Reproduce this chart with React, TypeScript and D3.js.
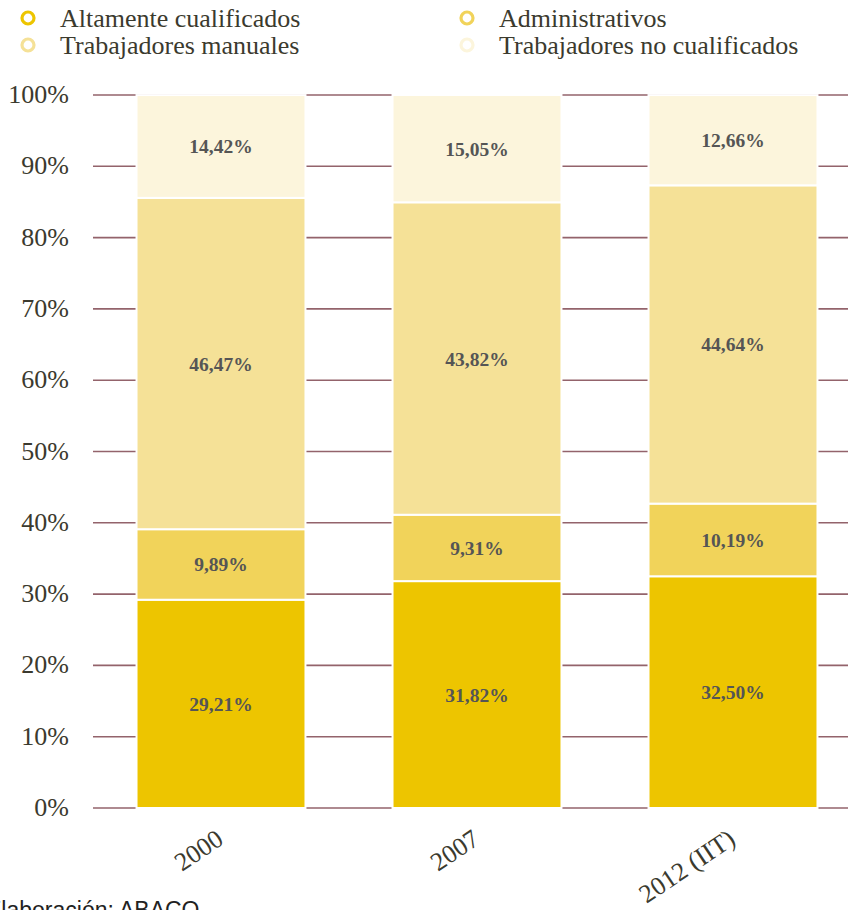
import React from 'react'
import * as d3 from 'd3'

// data
const years = ['2000', '2007', '2012 (IIT)']
const seriesNames = ['Altamente cualificados', 'Administrativos', 'Trabajadores manuales', 'Trabajadores no cualificados']
const altamente = [29.21, 31.82, 32.5]
const administrativos = [9.89, 9.31, 10.19]
const manuales = [46.47, 43.82, 44.64]
const noCualificados = [14.42, 15.05, 12.66]
const yTicks = [0, 10, 20, 30, 40, 50, 60, 70, 80, 90, 100]

const colors = ['#edc500', '#f1d35a', '#f5e197', '#fcf5dc']
const serif = '"Liberation Serif", "Times New Roman", serif'

const W = 848
const H = 910

const App = () => {
  const values = [altamente, administrativos, manuales, noCualificados]

  const rows = years.map((yr, i) => {
    const r: any = { year: yr }
    seriesNames.forEach((s, k) => { r[s] = values[k][i] })
    return r
  })
  const stacked = d3.stack().keys(seriesNames)(rows)

  const xScale = d3.scaleBand()
    .domain(years)
    .range([93, 861])
    .paddingInner(0.34)
    .paddingOuter(0.17)

  const yScale = d3.scaleLinear()
    .domain([0, 100])
    .range([808, 95])

  const fmt = (v: number) => v.toFixed(2).replace('.', ',') + '%'

  return (
    <svg width={W} height={H} style={{ position: 'absolute', left: 0, top: 0 }}>
      {/* legend */}
      {seriesNames.map((s, k) => {
        const col = k % 2
        const row = Math.floor(k / 2)
        const lx = col === 0 ? 28 : 467
        const ly = 18 + row * 27
        return (
          <g key={s}>
            <circle cx={lx} cy={ly} r={6} fill="none" stroke={colors[k]} strokeWidth={3.2} />
            <text x={lx + 32} y={ly + 9} fontFamily={serif} fontSize={26} fill="#3b3a2e">{s}</text>
          </g>
        )
      })}

      {/* gridlines */}
      {yTicks.map(t => (
        <g key={t}>
          <line x1={93} x2={W} y1={yScale(t)} y2={yScale(t)} stroke="#93636b" strokeWidth={1.6} />
          <text x={69} y={yScale(t) + 8} textAnchor="end" fontFamily={serif} fontSize={26} fill="#3b3a2e">{t}%</text>
        </g>
      ))}

      {/* bars */}
      {stacked.map((layer, k) => (
        <g key={layer.key}>
          {layer.map((d: any, i) => {
            const x = xScale(years[i]) as number
            const y0 = yScale(d[0])
            const y1 = yScale(d[1])
            return (
              <g key={i}>
                <rect x={x} y={y1} width={xScale.bandwidth()} height={y0 - y1}
                  fill={colors[k]} stroke="#ffffff" strokeWidth={2} />
                <text x={x + xScale.bandwidth() / 2} y={(y0 + y1) / 2 + 7}
                  textAnchor="middle" fontFamily={serif} fontWeight="bold" fontSize={19.5} fill="#555555">
                  {fmt(values[k][i])}
                </text>
              </g>
            )
          })}
        </g>
      ))}

      {/* x labels */}
      {years.map(yr => {
        const cx = (xScale(yr) as number) + xScale.bandwidth() / 2
        return (
          <text key={yr} transform={`translate(${cx + 4},${843}) rotate(-34)`} textAnchor="end"
            fontFamily={serif} fontSize={26} fill="#3b3a2e">{yr}</text>
        )
      })}

      <text x={-14} y={918} fontFamily='"Liberation Sans", Arial, sans-serif' fontSize={23} fill="#222222">Elaboración: ABACO</text>
    </svg>
  )
}

export default App
